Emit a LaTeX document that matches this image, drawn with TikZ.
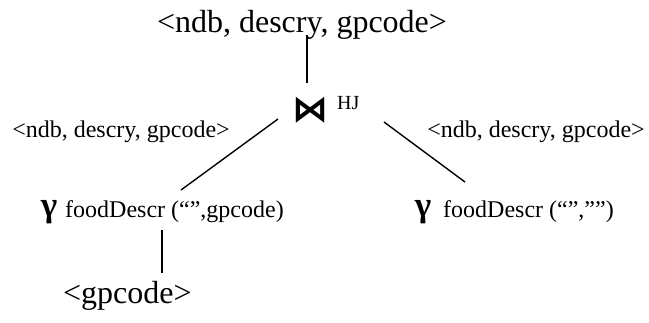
\documentclass[tikz,border=0pt]{standalone}
\usepackage{fontspec}
\setmainfont{Liberation Serif}
\newfontfamily\opfont{DejaVu Sans}
\usetikzlibrary{calc}

\tikzset{
  attrs/.style={inner sep=0pt, anchor=base, font=\fontsize{24}{28}\selectfont},
  bigattrs/.style={inner sep=0pt, anchor=base, font=\fontsize{32}{36}\selectfont},
  opsym/.style={inner sep=0pt, anchor=base, font=\fontsize{35}{38}\selectfont\bfseries},
  edge/.style={line width=1.4pt}
}

\begin{document}
\begin{tikzpicture}[x=1pt, y=-1pt]
  \useasboundingbox (0,0) rectangle (649,322);

  % --- root: hash join and its output schema ---
  \node[bigattrs] (top) at (302,32) {<ndb, descry, gpcode>};
  \node[inner sep=0pt, font=\fontsize{36}{40}\selectfont\opfont\bfseries] (join) at (310,110) {⋈};
  \node[inner sep=0pt, anchor=base west, font=\fontsize{20}{24}\selectfont] (hj) at (337,109) {HJ};

  % --- schemas flowing into the join ---
  \node[attrs] (lschema) at (121,137) {<ndb, descry, gpcode>};
  \node[attrs] (rschema) at (536,137) {<ndb, descry, gpcode>};

  % --- left aggregation ---
  \node[opsym] (lgamma) at (49,216) {γ};
  \node[attrs, anchor=base west] (lfun) at (65,217) {foodDescr (“”,gpcode)};

  % --- right aggregation ---
  \node[opsym] (rgamma) at (423,216) {γ};
  \node[attrs, anchor=base west] (rfun) at (443,217) {foodDescr (“”,””)};

  % --- leaf schema ---
  \node[bigattrs, anchor=base west] (leaf) at (63,303) {<gpcode>};

  % === connector ends ===
  \coordinate (top-b) at ($(top.base)+(5,3)$);
  \coordinate (join-t) at ($(join.center)+(-3,-27)$);
  \coordinate (join-l) at ($(join.center)+(-32,9)$);
  \coordinate (lfun-t) at ($(lfun.base west)+(116,-27)$);
  \coordinate (join-r) at ($(hj.base west)+(47,13)$);
  \coordinate (rfun-t) at ($(rfun.base west)+(22,-35)$);
  \coordinate (lfun-b) at ($(lfun.base west)+(97,13)$);
  \coordinate (leaf-t) at ($(leaf.base west)+(99,-30)$);

  % === edges ===
  \draw[edge] (top-b) -- (join-t);
  \draw[edge] (join-l) -- (lfun-t);
  \draw[edge] (join-r) -- (rfun-t);
  \draw[edge] (lfun-b) -- (leaf-t);
\end{tikzpicture}
\end{document}
